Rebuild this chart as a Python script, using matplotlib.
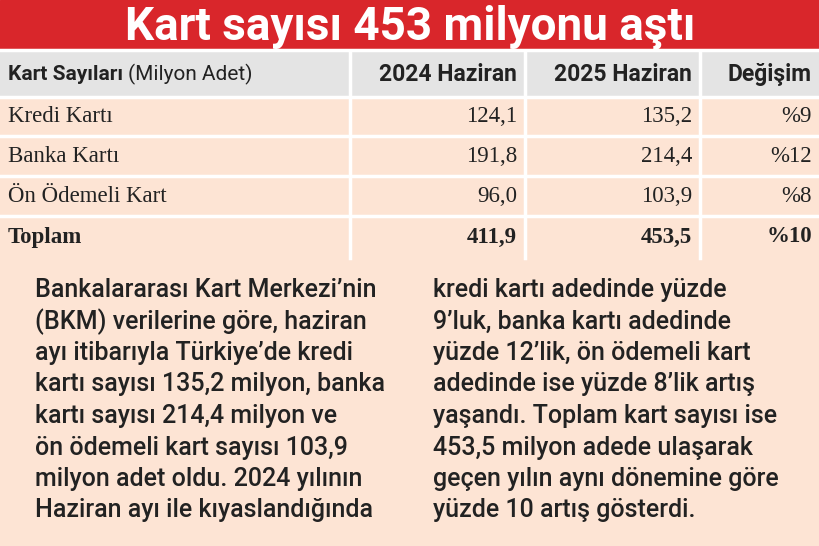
import matplotlib
matplotlib.use("Agg")
import matplotlib.pyplot as plt
from matplotlib.patches import Rectangle

title = "Kart sayısı 453 milyonu aştı"
headers = ["2024 Haziran", "2025 Haziran", "Değişim"]
categories = ["Kredi Kartı", "Banka Kartı", "Ön Ödemeli Kart", "Toplam"]
v2024 = ["124,1", "191,8", "96,0", "411,9"]
v2025 = ["135,2", "214,4", "103,9", "453,5"]
change = ["%9", "%12", "%8", "%10"]
left_text = ["Bankalararası Kart Merkezi’nin", "(BKM) verilerine göre, haziran",
             "ayı itibarıyla Türkiye’de kredi", "kartı sayısı 135,2 milyon, banka",
             "kartı sayısı 214,4 milyon ve", "ön ödemeli kart sayısı 103,9",
             "milyon adet oldu. 2024 yılının", "Haziran ayı ile kıyaslandığında"]
right_text = ["kredi kartı adedinde yüzde", "9’luk, banka kartı adedinde",
              "yüzde 12’lik, ön ödemeli kart", "adedinde ise yüzde 8’lik artış",
              "yaşandı. Toplam kart sayısı ise", "453,5 milyon adede ulaşarak",
              "geçen yılın aynı dönemine göre", "yüzde 10 artış gösterdi."]

W, H = 820, 546
fig = plt.figure(figsize=(8.2, 5.46), dpi=100)
ax = fig.add_axes([0, 0, 1, 1])
ax.set_xlim(0, W); ax.set_ylim(H, 0); ax.axis("off")

red = "#d9262b"; peach = "#fde4d4"; gray = "#e4e4e4"
ax.add_patch(Rectangle((0, 0), W, 50, color=red))
ax.text(W/2, 27, title, ha="center", va="center", color="white",
        fontsize=33, fontweight="bold", family="Roboto")

cols = [0, 350, 525, 700, W]
rows = [52, 97, 136, 176, 216, 258]
ax.add_patch(Rectangle((0, 50), W, H-50, color=peach))
ax.add_patch(Rectangle((0, rows[0]), W, rows[1]-rows[0], color=gray))
for y in rows[1:-1]:
    ax.plot([0, W], [y, y], color="white", lw=2.5)
for x in cols[1:-1]:
    ax.plot([x, x], [rows[0], rows[-1]], color="white", lw=2.5)
ax.plot([0, W], [50, 50], color="white", lw=2.5)

hy = (rows[0]+rows[1])/2
t = ax.text(8, hy, "Kart Sayıları ", ha="left", va="center", fontsize=15,
            fontweight="bold", family="Roboto", color="#222")
ax.annotate("(Milyon Adet)", xy=(1, 0.5), xycoords=t, ha="left", va="center",
            fontsize=15, family="Roboto", color="#222")
for i, h in enumerate(headers):
    ax.text(cols[i+2]-8, hy, h, ha="right", va="center", fontsize=16.5,
            fontweight="bold", family="Roboto", color="#222")

for r, cat in enumerate(categories):
    y = (rows[r+1]+rows[r+2])/2
    wt = "bold" if cat == "Toplam" else "normal"
    kw = dict(va="center", fontsize=16.5, fontweight=wt, family="Liberation Serif", color="#222")
    ax.text(8, y, cat, ha="left", **kw)
    ax.text(cols[2]-8, y, v2024[r], ha="right", **kw)
    ax.text(cols[3]-8, y, v2025[r], ha="right", **kw)
    ax.text(cols[4]-8, y, change[r], ha="right", **kw)

for i, (l, rt) in enumerate(zip(left_text, right_text)):
    y = 290 + i*31.5
    ax.text(35, y, l, ha="left", va="center", fontsize=18, fontweight="medium",
            family="Roboto", color="#222")
    ax.text(433, y, rt, ha="left", va="center", fontsize=18, fontweight="medium",
            family="Roboto", color="#222")

fig.savefig("out.png", dpi=100)
